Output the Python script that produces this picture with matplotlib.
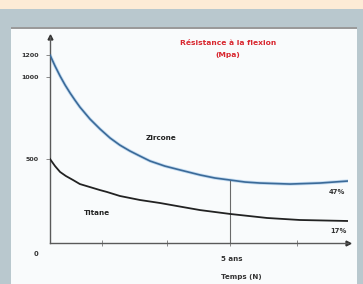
import numpy as np
import matplotlib
matplotlib.use("Agg")
import matplotlib.pyplot as plt
from matplotlib.patches import Rectangle

# ---- data ----
zirc_years = [0, 0.14, 0.28, 0.42, 0.56, 0.69, 0.83, 1.11, 1.39, 1.67, 1.94, 2.22, 2.5, 2.78,
              3.19, 3.61, 4.17, 4.58, 5.0, 5.42, 5.83, 6.67, 7.5, 8.28]
zirc_mpa   = [1200, 1100, 1009, 951, 902, 860, 817, 744, 683, 628, 585, 549, 518, 488,
              458, 435, 405, 387, 375, 363, 357, 351, 357, 369]
tit_years  = [0, 0.14, 0.28, 0.44, 0.64, 0.83, 1.11, 1.39, 1.58, 1.94, 2.5, 3.06, 3.69,
              4.17, 5.0, 6.03, 6.94, 8.28]
tit_mpa    = [500, 458, 423, 399, 375, 351, 333, 315, 304, 280, 256, 238, 214,
              196, 173, 149, 137, 131]
y_ticks      = [1200, 1000, 500]
y_ticklabels = ["1200", "1000", "500"]
x_ticks      = [1.44, 3.25, 5.0, 6.86]
marker_year  = 5.0
zirc_at_marker = 375

# non-linear (schematic) vertical scale: MPa -> drawing height
mpa_pts = [0, 500, 1000, 1200, 1400]
h_pts   = [0, 84, 166, 188, 210]
fwd = lambda v: np.interp(v, mpa_pts, h_pts)
inv = lambda h: np.interp(h, h_pts, mpa_pts)

W, H = 363, 284
fig = plt.figure(figsize=(W/100, H/100), dpi=100)
fig.patch.set_facecolor("#b9c8ce")

def fx(px): return px / W
def fy(py): return 1 - py / H

# background bands
fig.add_artist(Rectangle((0, fy(9)), 1, 9/H, transform=fig.transFigure,
                         facecolor="#fdebd6", edgecolor="none", zorder=0))
fig.add_artist(Rectangle((fx(10.5), 0), (357-10.5)/W, fy(27.5), transform=fig.transFigure,
                         facecolor="#f9fbfc", edgecolor="none", zorder=0))
fig.add_artist(Rectangle((fx(10.5), fy(29)), (357-10.5)/W, 2/H, transform=fig.transFigure,
                         facecolor="#9a9a9a", edgecolor="none", zorder=0))

ax = fig.add_axes([fx(50), fy(243), (348-50)/W, (243-37)/H])
ax.set_facecolor("none")
ax.set_yscale("function", functions=(fwd, inv))
ax.set_xlim(0, 8.28)
ax.set_ylim(0, 1364)

# curves
ax.plot(zirc_years, zirc_mpa, color="#c4dcf2", lw=2.4, solid_joinstyle="round",
        solid_capstyle="round", zorder=2)
ax.plot(zirc_years, zirc_mpa, color="#3b6a98", lw=1.2, solid_joinstyle="round", zorder=3)
ax.plot(tit_years, tit_mpa, color="#222222", lw=1.3, solid_joinstyle="round", zorder=3)
ax.plot([marker_year, marker_year], [0, zirc_at_marker], color="#6a6a6a", lw=0.8, zorder=2)

# axes styling
for s in ["top", "right"]:
    ax.spines[s].set_visible(False)
for s in ["left", "bottom"]:
    ax.spines[s].set_color("#5a5a5a")
    ax.spines[s].set_linewidth(1.0)
ax.plot([0], [1], marker="^", color="#333333", ms=3.5, transform=ax.transAxes, clip_on=False)
ax.plot([1], [0], marker=">", color="#333333", ms=3.5, transform=ax.transAxes, clip_on=False)

ax.set_yticks(y_ticks)
ax.set_yticklabels(y_ticklabels)
ax.set_xticks(x_ticks)
ax.set_xticklabels([])
ax.tick_params(axis="y", length=3, width=0.6, color="#777777", labelsize=4.6,
               labelcolor="#333333", pad=5)
ax.tick_params(axis="x", length=4, width=0.6, color="#777777", direction="inout")
for t in ax.get_yticklabels():
    t.set_fontweight("bold")
ax.minorticks_off()

# texts
red = "#d8262e"
fig.text(fx(228), fy(43), "Résistance à la flexion", color=red, fontsize=5.4,
         fontweight="bold", ha="center", va="center")
fig.text(fx(228), fy(55), "(Mpa)", color=red, fontsize=5.4,
         fontweight="bold", ha="center", va="center")
fig.text(fx(161), fy(138), "Zircone", color="#222222", fontsize=5.2,
         fontweight="bold", ha="center", va="center")
fig.text(fx(97), fy(213), "Titane", color="#222222", fontsize=5.2,
         fontweight="bold", ha="center", va="center")
fig.text(fx(337), fy(192), "47%", color="#333333", fontsize=4.9,
         fontweight="bold", ha="center", va="center")
fig.text(fx(338), fy(231), "17%", color="#333333", fontsize=4.9,
         fontweight="bold", ha="center", va="center")
fig.text(fx(232), fy(259), "5 ans", color="#333333", fontsize=5.1,
         fontweight="bold", ha="center", va="center")
fig.text(fx(241), fy(277), "Temps (N)", color="#333333", fontsize=5.1,
         fontweight="bold", ha="center", va="center")
fig.text(fx(36), fy(254), "0", color="#333333", fontsize=4.9,
         fontweight="bold", ha="center", va="center")

fig.savefig("out.png", dpi=100)
